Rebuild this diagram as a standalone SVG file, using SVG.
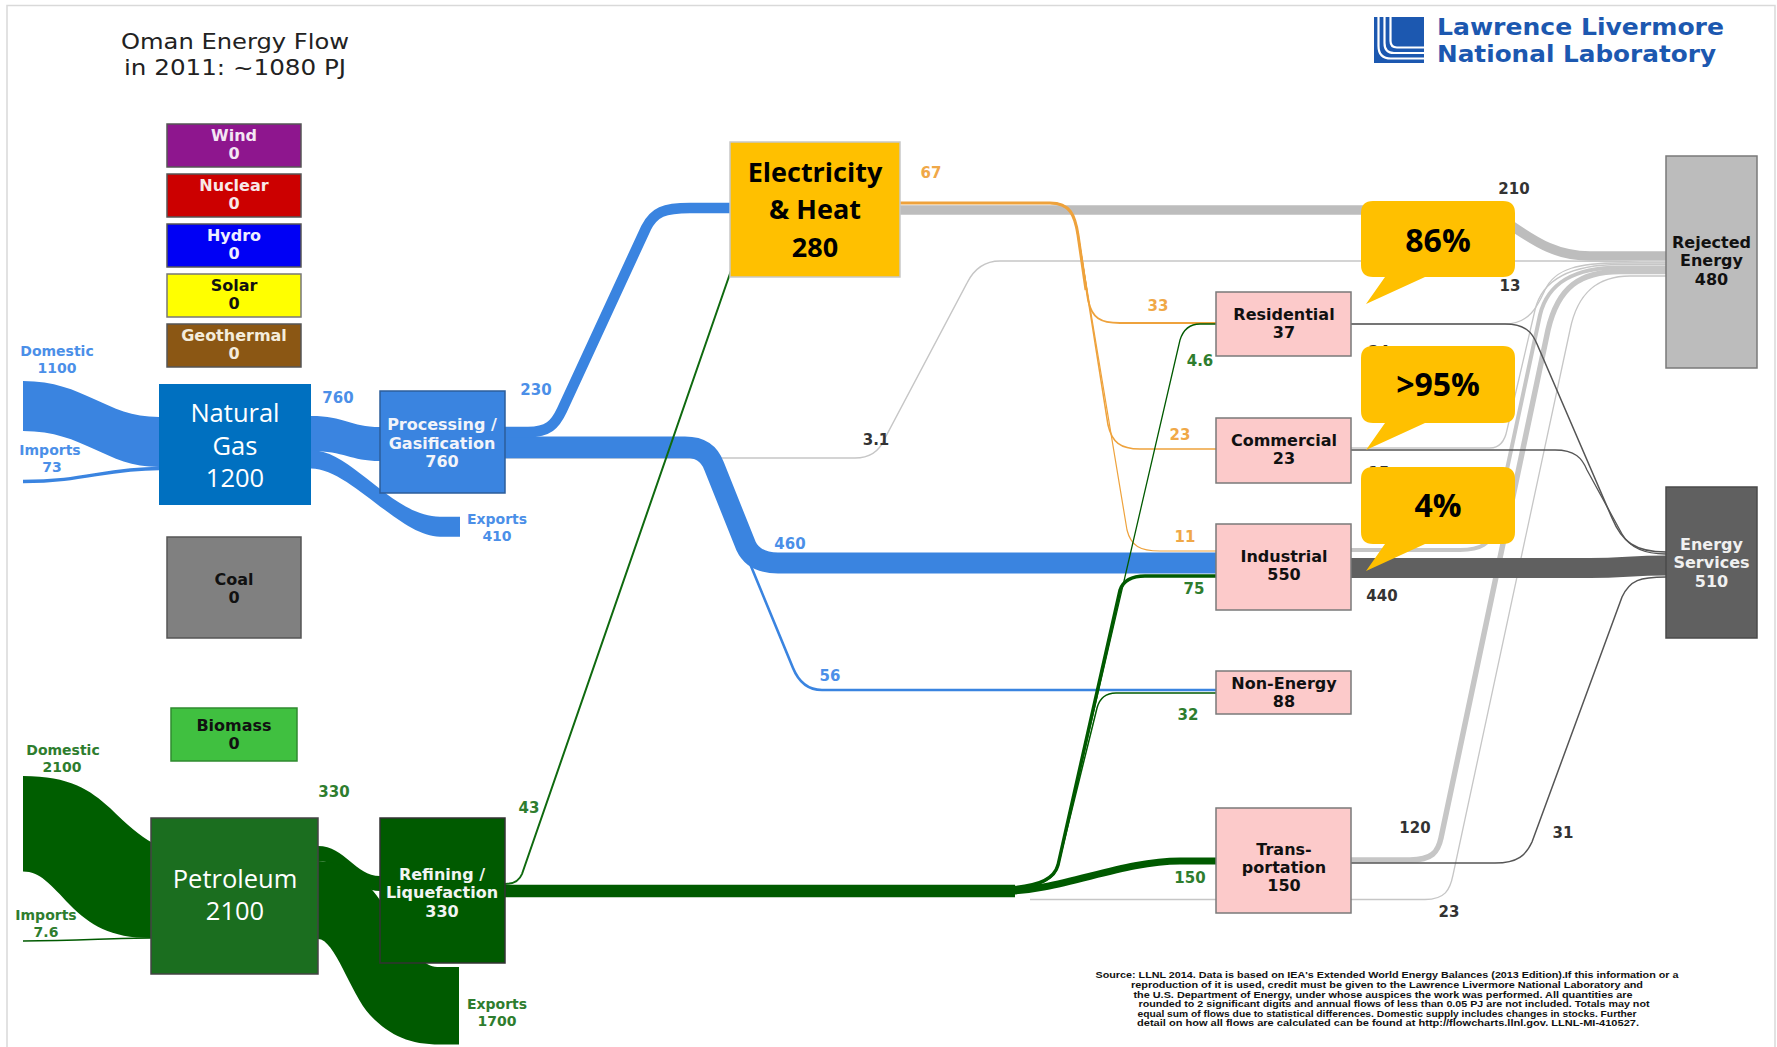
<svg xmlns="http://www.w3.org/2000/svg" width="1777" height="1047" viewBox="0 0 1777 1047">
<defs>
<style>
.nl{font-family:"DejaVu Sans",Verdana,sans-serif;font-weight:bold;font-size:16px;text-anchor:middle}
.fl{font-family:"DejaVu Sans",Verdana,sans-serif;font-weight:bold;font-size:15px;text-anchor:middle}
.fs{font-family:"DejaVu Sans",Verdana,sans-serif;font-weight:bold;font-size:14px;text-anchor:middle}
.big{font-family:"Open Sans","Liberation Sans",sans-serif;font-size:25.5px;fill:#ffffff;text-anchor:middle}
.bub{font-family:"Open Sans","Liberation Sans",sans-serif;font-weight:bold;font-size:32px;text-anchor:middle;fill:#000}
.ln{fill:none}
.lg{stroke:#c6c6c6}
.dg{stroke:#555555}
.bl{stroke:#3a84e0}
.gr{stroke:#005a00}
.or{stroke:#eea23c}
.cb{fill:#ffc000}
.pink{fill:#fccaca;stroke:#7a7a7a;stroke-width:1.5}
.src{font-family:"Liberation Sans",Arial,sans-serif;font-weight:bold;font-size:9.6px;text-anchor:middle;fill:#111}
.logo{font-family:"DejaVu Sans",Verdana,sans-serif;font-weight:bold;font-size:23.5px;fill:#1c58b0}
.tb{fill:#4b8fe8}.tg{fill:#2e7d2e}.to{fill:#f0a848}.tk{fill:#333}
</style>
</defs>
<rect width="1777" height="1047" fill="#ffffff"/>
<path d="M7,1047 V5.5 H1775 V1047" fill="none" stroke="#d9d9d9" stroke-width="1.5"/>

<g id="title" font-family="DejaVu Sans, Verdana, sans-serif" font-size="22" fill="#222" text-anchor="middle">
<text x="235" y="49" textLength="228" lengthAdjust="spacingAndGlyphs">Oman Energy Flow</text>
<text x="235" y="75" textLength="222" lengthAdjust="spacingAndGlyphs">in 2011: ~1080 PJ</text>
</g>

<g id="llnl-logo">
<rect x="1374" y="17" width="50" height="46" fill="#1c58b0"/>
<path d="M1378.5,17 V46 Q1378.5,58.5 1391,58.5 H1424 M1384.5,17 V43 Q1384.5,53 1394,53 H1424 M1390.5,17 V41 Q1390.5,47.5 1397,47.5 H1424" fill="none" stroke="#fff" stroke-width="2.2"/>
<text class="logo" x="1437" y="35" textLength="287" lengthAdjust="spacingAndGlyphs">Lawrence Livermore</text>
<text class="logo" x="1437" y="62" textLength="279" lengthAdjust="spacingAndGlyphs">National Laboratory</text>
</g>

<g id="connectors">
<!-- rejected (light gray) -->
<path class="ln lg" stroke-width="1.5" d="M505,458 H855 Q876,458 884,440 L967,283 Q978,261 1000,261 H1560 C1600,261 1620,262 1666,262"/>
<path class="ln" stroke="#bdbdbd" stroke-width="9.6" d="M900,210 H1470 C1510,210 1530,256 1590,256 H1666"/>
<path class="ln lg" stroke-width="1.3" d="M1351,324 H1505 C1530,324 1538,305 1545,290 C1555,268 1580,263 1620,263 H1666"/>
<path class="ln lg" stroke-width="1.3" d="M1351,448 H1490 C1500,448 1505,440 1507,430 L1535,310 C1542,280 1570,264.5 1620,264.5 H1666"/>
<path class="ln lg" stroke-width="4" d="M1351,550 H1460 C1482,550 1490,543 1494,530 L1540,315 C1548,282 1575,267.5 1620,267.5 H1666"/>
<path class="ln lg" stroke-width="5.5" d="M1351,860 H1410 C1432,860 1438,852 1441,838 L1548,330 C1558,287 1580,271.5 1620,271.5 H1666"/>
<path class="ln lg" stroke-width="1.3" d="M1030,899.5 H1425 C1445,899.5 1450,890 1453,875 L1570,330 C1578,290 1600,276 1630,276 H1666"/>
<!-- energy services (dark gray) -->
<path class="ln dg" stroke-width="1.5" d="M1351,324 H1505 C1525,324 1532,332 1537,344 L1612,518 C1622,542 1635,552 1666,552"/>
<path class="ln dg" stroke-width="1.3" d="M1351,450 H1555 C1575,450 1582,458 1587,470 L1622,534 C1630,548 1645,554 1666,554"/>
<path class="ln dg" stroke-width="1.5" d="M1351,863 H1495 C1518,863 1526,855 1532,842 L1622,597 C1630,580 1640,577 1666,577"/>
<path class="ln" stroke="#606060" stroke-width="20" d="M1351,568 H1590 C1625,568 1630,565.5 1666,565.5"/>
<!-- natural gas -->
<path fill="#3a84e0" d="M23,381 C85,381 105,417 159,417 V467 C105,467 85,431 23,431 Z"/>
<path class="ln bl" stroke-width="3.3" d="M23,481.5 C85,481.5 105,468.5 159,468.5"/>
<path fill="#3a84e0" d="M311,416 C345,416 350,427 380,427 V461 C350,461 345,451 311,451 Z"/>
<path fill="#3a84e0" d="M311,450 C352,450 392,516.7 440,516.7 H460 V536.7 H440 C400,536.7 350,468.5 311,468.5 Z"/>
<path class="ln bl" stroke-width="2.6" d="M505,457 H690 Q706,457 713,474 L793,668 Q802,690 822,690 H1216"/>
<path class="ln bl" stroke-width="21" d="M505,447 H685 Q707,447 714,466 L746,546 Q754,563 778,563 H1216"/>
<path class="ln bl" stroke-width="10.5" d="M505,432 H528 C548,432 555,425 562,410 L646,228 C654,212 664,208 690,208 H731"/>
<!-- electricity (orange) -->
<path class="ln or" stroke-width="1.8" d="M900,203 H1050 C1070,203 1075,215 1078,235 L1088,300 C1092,318 1100,323 1120,323 H1216"/>
<path class="ln or" stroke-width="1.5" d="M900,203 H1050 C1070,203 1075,215 1078,235 L1108,425 C1112,442 1120,449 1140,449 H1216"/>
<path class="ln or" stroke-width="1.2" d="M900,203 H1050 C1070,203 1075,215 1078,235 L1127,530 C1131,546 1140,551 1160,551 H1216"/>
<path class="ln or" stroke-width="3" d="M900,203 H1050 C1070,203 1075,215 1078,235 L1086,290"/>
<!-- petroleum -->
<path fill="#005e00" d="M23,776 C70,776 90,790 110,808 Q135,833 151,842 V938 C110,938 90,925 70,905 C50,884 40,871.5 23,871.5 Z"/>
<path class="ln gr" stroke-width="1.5" d="M23,941 C80,941 110,938 151,938"/>
<path fill="#005a00" d="M318,846 C345,846 355,876 380,876 V891 C355,891 345,861 318,861 Z"/>
<path fill="#005a00" d="M318,861 C360,861 380,900 400,930 C420,960 425,967 440,967 H459 V1044.5 H440 C410,1044.5 390,1036 370,1015 C350,993 335,939 318,939 Z"/>
<path class="ln gr" stroke-width="12.5" d="M505,891 H1015"/>
<path class="ln" stroke="#0f6a0f" stroke-width="2" d="M505,884 Q518,884 522,874 L734,262"/>
<path class="ln gr" stroke-width="7" d="M1000,891.5 C1060,891.5 1120,861 1180,861 H1216"/>
<path class="ln gr" stroke-width="3.4" d="M1000,888 Q1052,888 1058,865 L1120,590 Q1125,576 1145,576 H1216"/>
<path class="ln gr" stroke-width="1.5" d="M1000,889 Q1052,889 1058,866 L1097,708 Q1101,693 1116,693 H1216"/>
<path class="ln gr" stroke-width="1.3" d="M1000,888 Q1052,888 1058,865 L1180,340 Q1185,324 1200,324 H1216"/>
</g>

<g id="flow-labels">
<text class="fs tb" x="57" y="356">Domestic</text>
<text class="fs tb" x="57" y="373">1100</text>
<text class="fs tb" x="50" y="455">Imports</text>
<text class="fs tb" x="52" y="472">73</text>
<text class="fl tb" x="338" y="403">760</text>
<text class="fl tb" x="536" y="395">230</text>
<text class="fs tb" x="497" y="524">Exports</text>
<text class="fs tb" x="497" y="541">410</text>
<text class="fl tb" x="790" y="549">460</text>
<text class="fl tb" x="830" y="681">56</text>
<text class="fl tk" x="876" y="445">3.1</text>
<text class="fs tg" x="63" y="755">Domestic</text>
<text class="fs tg" x="62" y="772">2100</text>
<text class="fs tg" x="46" y="920">Imports</text>
<text class="fs tg" x="46" y="937">7.6</text>
<text class="fl tg" x="334" y="797">330</text>
<text class="fl tg" x="529" y="813">43</text>
<text class="fs tg" x="497" y="1009">Exports</text>
<text class="fs tg" x="497" y="1026">1700</text>
<text class="fl to" x="931" y="178">67</text>
<text class="fl to" x="1158" y="311">33</text>
<text class="fl to" x="1180" y="440">23</text>
<text class="fl to" x="1185" y="542">11</text>
<text class="fl tg" x="1200" y="366">4.6</text>
<text class="fl tg" x="1194" y="594">75</text>
<text class="fl tg" x="1188" y="720">32</text>
<text class="fl tg" x="1190" y="883">150</text>
<text class="fl tk" x="1514" y="194">210</text>
<text class="fl tk" x="1510" y="291">13</text>
<text class="fl tk" x="1379" y="357">24</text>
<text class="fl tk" x="1379" y="478">15</text>
<text class="fl tk" x="1382" y="601">440</text>
<text class="fl tk" x="1415" y="833">120</text>
<text class="fl tk" x="1563" y="838">31</text>
<text class="fl tk" x="1449" y="917">23</text>
</g>

<g id="node-wind"><rect x="167" y="124" width="134" height="43" fill="#8e168e" stroke="#555" stroke-width="1.5"/><text class="nl" x="234" y="141" fill="#f4e6f4">Wind</text><text class="nl" x="234" y="159" fill="#f4e6f4">0</text></g>
<g id="node-nuclear"><rect x="167" y="174" width="134" height="43" fill="#cc0000" stroke="#555" stroke-width="1.5"/><text class="nl" x="234" y="191" fill="#f8e8e8">Nuclear</text><text class="nl" x="234" y="209" fill="#f8e8e8">0</text></g>
<g id="node-hydro"><rect x="167" y="224" width="134" height="43" fill="#0000f5" stroke="#555" stroke-width="1.5"/><text class="nl" x="234" y="241" fill="#eeeeff">Hydro</text><text class="nl" x="234" y="259" fill="#eeeeff">0</text></g>
<g id="node-solar"><rect x="167" y="274" width="134" height="43" fill="#ffff00" stroke="#777" stroke-width="1.5"/><text class="nl" x="234" y="291" fill="#111">Solar</text><text class="nl" x="234" y="309" fill="#111">0</text></g>
<g id="node-geothermal"><rect x="167" y="324" width="134" height="43" fill="#8b5714" stroke="#555" stroke-width="1.5"/><text class="nl" x="234" y="341" fill="#f4ecdc">Geothermal</text><text class="nl" x="234" y="359" fill="#f4ecdc">0</text></g>
<g id="node-natural-gas"><rect x="159" y="384" width="152" height="121" fill="#0070c0"/><text class="big" x="235" y="422">Natural</text><text class="big" x="235" y="455">Gas</text><text class="big" x="235" y="487">1200</text></g>
<g id="node-coal"><rect x="167" y="537" width="134" height="101" fill="#808080" stroke="#555" stroke-width="1.5"/><text class="nl" x="234" y="585" fill="#111">Coal</text><text class="nl" x="234" y="603" fill="#111">0</text></g>
<g id="node-biomass"><rect x="171" y="708" width="126" height="53" fill="#40c040" stroke="#2f8a2f" stroke-width="1.5"/><text class="nl" x="234" y="731" fill="#111">Biomass</text><text class="nl" x="234" y="749" fill="#111">0</text></g>
<g id="node-petroleum"><rect x="151" y="818" width="167" height="156" fill="#1b6e1f" stroke="#444" stroke-width="1.5"/><text class="big" x="235" y="888">Petroleum</text><text class="big" x="235" y="920">2100</text></g>
<g id="node-processing"><rect x="380" y="391" width="125" height="102" fill="#3a84e0" stroke="#2d5d9a" stroke-width="1.5"/><text class="nl" x="442" y="430" fill="#f2f4fa">Processing /</text><text class="nl" x="442" y="449" fill="#f2f4fa">Gasification</text><text class="nl" x="442" y="467" fill="#f2f4fa">760</text></g>
<g id="node-refining"><rect x="380" y="818" width="125" height="145" fill="#005a00" stroke="#333" stroke-width="1.5"/><text class="nl" x="442" y="880" fill="#f2f4f2">Refining /</text><text class="nl" x="442" y="898" fill="#f2f4f2">Liquefaction</text><text class="nl" x="442" y="917" fill="#f2f4f2">330</text></g>
<g id="node-electricity"><rect x="730" y="142" width="170" height="135" fill="#ffc000" stroke="#c8c8c8" stroke-width="1.5"/><text x="815" y="182" font-family="Open Sans, Liberation Sans, sans-serif" font-weight="bold" font-size="27" text-anchor="middle" fill="#000">Electricity</text><text x="815" y="219" font-family="Open Sans, Liberation Sans, sans-serif" font-weight="bold" font-size="27" text-anchor="middle" fill="#000">&amp; Heat</text><text x="815" y="257" font-family="Open Sans, Liberation Sans, sans-serif" font-weight="bold" font-size="27" text-anchor="middle" fill="#000">280</text></g>
<g id="node-residential"><rect class="pink" x="1216" y="292" width="135" height="64"/><text class="nl" x="1284" y="320" fill="#111">Residential</text><text class="nl" x="1284" y="338" fill="#111">37</text></g>
<g id="node-commercial"><rect class="pink" x="1216" y="418" width="135" height="65"/><text class="nl" x="1284" y="446" fill="#111">Commercial</text><text class="nl" x="1284" y="464" fill="#111">23</text></g>
<g id="node-industrial"><rect class="pink" x="1216" y="524" width="135" height="86"/><text class="nl" x="1284" y="562" fill="#111">Industrial</text><text class="nl" x="1284" y="580" fill="#111">550</text></g>
<g id="node-non-energy"><rect class="pink" x="1216" y="671" width="135" height="43"/><text class="nl" x="1284" y="689" fill="#111">Non-Energy</text><text class="nl" x="1284" y="707" fill="#111">88</text></g>
<g id="node-transportation"><rect class="pink" x="1216" y="808" width="135" height="105"/><text class="nl" x="1284" y="855" fill="#111">Trans-</text><text class="nl" x="1284" y="873" fill="#111">portation</text><text class="nl" x="1284" y="891" fill="#111">150</text></g>
<g id="node-rejected"><rect x="1666" y="156" width="91" height="212" fill="#bcbcbc" stroke="#7a7a7a" stroke-width="1.5"/><text class="nl" font-size="15.5" x="1711.5" y="248" fill="#111">Rejected</text><text class="nl" font-size="15.5" x="1711.5" y="266" fill="#111">Energy</text><text class="nl" font-size="15.5" x="1711.5" y="285" fill="#111">480</text></g>
<g id="node-energy-services"><rect x="1666" y="487" width="91" height="151" fill="#606060" stroke="#4a4a4a" stroke-width="1.5"/><text class="nl" font-size="15.5" x="1711.5" y="550" fill="#f0f0f0">Energy</text><text class="nl" font-size="15.5" x="1711.5" y="568" fill="#f0f0f0">Services</text><text class="nl" font-size="15.5" x="1711.5" y="587" fill="#f0f0f0">510</text></g>

<g id="callout-86">
<path class="cb" d="M1373,201 H1503 Q1515,201 1515,213 V265 Q1515,277 1503,277 H1425 L1366,304 L1385,277 H1373 Q1361,277 1361,265 V213 Q1361,201 1373,201 Z"/>
<text class="bub" x="1438" y="252">86%</text>
</g>
<g id="callout-95">
<path class="cb" d="M1373,346 H1503 Q1515,346 1515,358 V411 Q1515,423 1503,423 H1425 L1366,450 L1385,423 H1373 Q1361,423 1361,411 V358 Q1361,346 1373,346 Z"/>
<text class="bub" x="1438" y="396">&gt;95%</text>
</g>
<g id="callout-4">
<path class="cb" d="M1373,467 H1503 Q1515,467 1515,479 V532 Q1515,544 1503,544 H1425 L1366,571 L1385,544 H1373 Q1361,544 1361,532 V479 Q1361,467 1373,467 Z"/>
<text class="bub" x="1438" y="517">4%</text>
</g>

<g id="source-note">
<text class="src" x="1387" y="978" textLength="583" lengthAdjust="spacingAndGlyphs">Source: LLNL 2014. Data is based on IEA's Extended World Energy Balances (2013 Edition).If this information or a</text>
<text class="src" x="1387" y="988" textLength="512" lengthAdjust="spacingAndGlyphs">reproduction of it is used, credit must be given to the Lawrence Livermore National Laboratory and</text>
<text class="src" x="1383" y="997.5" textLength="499" lengthAdjust="spacingAndGlyphs">the U.S. Department of Energy, under whose auspices the work was performed. All quantities are</text>
<text class="src" x="1394" y="1007" textLength="511" lengthAdjust="spacingAndGlyphs">rounded to 2 significant digits and annual flows of less than 0.05 PJ are not included. Totals may not</text>
<text class="src" x="1387" y="1016.5" textLength="499" lengthAdjust="spacingAndGlyphs">equal sum of flows due to statistical differences. Domestic supply includes changes in stocks. Further</text>
<text class="src" x="1388" y="1026" textLength="502" lengthAdjust="spacingAndGlyphs">detail on how all flows are calculated can be found at http://flowcharts.llnl.gov. LLNL-MI-410527.</text>
</g>
</svg>
